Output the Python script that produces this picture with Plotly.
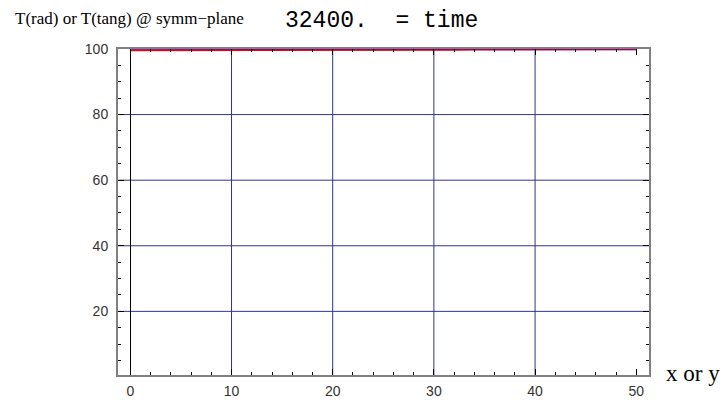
import plotly.graph_objects as go

# Temperature profiles along the symmetry plane at t = 32400
position = [0, 2, 4, 6, 8, 10, 12, 14, 16, 18, 20, 22, 24, 26, 28, 30,
            32, 34, 36, 38, 40, 42, 44, 46, 48, 50]
t_rad = [99.6, 99.6, 99.6, 99.6, 99.6, 99.6, 99.6, 99.6, 99.6, 99.6, 99.6,
         99.6, 99.61, 99.63, 99.67, 99.72, 99.78, 99.84, 99.88, 99.9, 99.9,
         99.9, 99.9, 99.9, 99.9, 99.9]
t_tang = [99.9] * len(position)

x_ticks = [0, 10, 20, 30, 40, 50]
y_ticks = [20, 40, 60, 80, 100]
time_value = "32400."

fig = go.Figure()
fig.add_trace(go.Scatter(x=position, y=t_rad, mode="lines",
                         line=dict(color="#ff0000", width=2), name="T(rad)"))
fig.add_trace(go.Scatter(x=position, y=t_tang, mode="lines",
                         line=dict(color="rgba(0,0,255,0.4)", width=2), name="T(tang)"))

frame = dict(showline=True, linecolor="#808080", linewidth=2, mirror="ticks",
             ticks="inside", tickcolor="#000000", ticklen=6, tickwidth=1,
             showgrid=False, automargin=False,
             tickfont=dict(family="Liberation Sans", size=14, color="#333333"))

fig.update_xaxes(range=[-1.22, 51.26], tickvals=x_ticks, zeroline=True,
                 zerolinecolor="#000000", zerolinewidth=1,
                 minor=dict(dtick=2, tick0=0, ticks="inside", ticklen=3,
                            tickcolor="#000000", showgrid=False),
                 ticklabelstandoff=2, **frame)
fig.update_yaxes(range=[0.6, 100.0], tickvals=y_ticks, zeroline=False,
                 minor=dict(dtick=5, tick0=0, ticks="inside", ticklen=3,
                            tickcolor="#000000", showgrid=False),
                 ticklabelstandoff=5, **frame)

# interior grid lines (the x = 0 line is the black zero line)
grid_color = "#33338a"
for gx in x_ticks[1:-1]:
    fig.add_shape(type="line", xref="x", yref="paper", x0=gx, x1=gx, y0=0, y1=1,
                  line=dict(color=grid_color, width=1), layer="below")
for gy in y_ticks[:-1]:
    fig.add_shape(type="line", xref="paper", yref="y", x0=0, x1=1, y0=gy, y1=gy,
                  line=dict(color=grid_color, width=1), layer="below")

fig.add_annotation(text="T(rad) or T(tang) @ symm\u2212plane", xref="paper", yref="paper",
                   x=-0.198, y=1.095, xanchor="left", yanchor="middle", showarrow=False,
                   font=dict(family="Liberation Serif", size=17, color="#000000"))
fig.add_annotation(text=time_value + "&nbsp;&nbsp;=&nbsp;time", xref="paper", yref="paper",
                   x=0.31, y=1.085, xanchor="left", yanchor="middle", showarrow=False,
                   font=dict(family="Liberation Mono", size=23, color="#000000"))
fig.add_annotation(text="x or y", xref="paper", yref="paper",
                   x=1.029, y=0.005, xanchor="left", yanchor="middle", showarrow=False,
                   font=dict(family="Liberation Serif", size=23, color="#000000"))

fig.update_layout(width=726, height=402, margin=dict(l=118, r=77, t=49, b=27),
                  paper_bgcolor="#ffffff", plot_bgcolor="#ffffff", showlegend=False)

fig.write_html("out.html")
